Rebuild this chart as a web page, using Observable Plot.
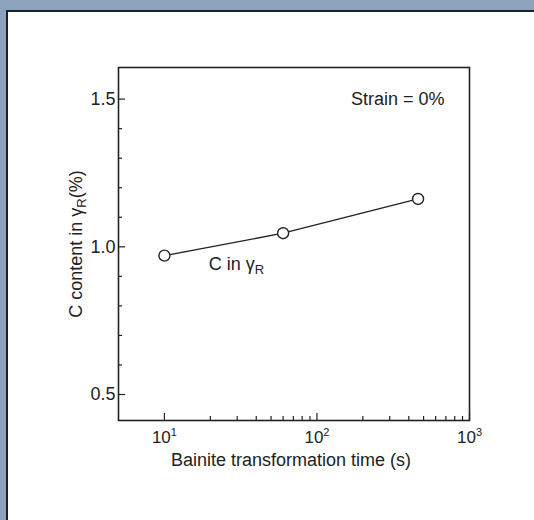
<!DOCTYPE html>
<html><head><meta charset="utf-8">
<script src="https://cdn.jsdelivr.net/npm/d3@7"></script>
<script src="https://cdn.jsdelivr.net/npm/@observablehq/plot@0.6"></script>
<style>
html,body{margin:0;padding:0;}
#page{position:relative;width:534px;height:520px;background:#8da2bd;overflow:hidden;}
#panel{position:absolute;left:6px;top:10px;right:0;bottom:0;background:#fff;border-top:2px solid #1d2228;border-left:2px solid #1d2228;}
#chart{position:absolute;left:0;top:0;}
</style></head><body>
<div id="page"><div id="panel"></div><div id="chart"></div></div>
<script>
// Data
const times = [10, 60, 460];            // bainite transformation time (s)
const carbon = [0.97, 1.046, 1.162];    // C content in γR (%)
const yMajor = [0.5, 1.0, 1.5];
const yMinor = [0.6, 0.7, 0.8, 0.9, 1.1, 1.2, 1.3, 1.4];
const xMajor = [10, 100, 1000];
const xMajorExponents = ["1", "2", "3"];
const xMinor = [20, 30, 40, 50, 60, 70, 80, 90, 200, 300, 400, 500, 600, 700, 800, 900];
const seriesName = "C in γR";
const seriesLabelAt = [19.5, 0.942];
const strainLabel = "Strain = 0%";
const xTitle = "Bainite transformation time (s)";
const yTitle = "C content in γR(%)";

const data = times.map((t, i) => ({t, c: carbon[i]}));
const ink = "#222";
const xTickText = d => "10^" + xMajorExponents[xMajor.indexOf(d)];

const chart = Plot.plot({
  width: 534, height: 520,
  marginLeft: 118, marginRight: 65, marginTop: 67, marginBottom: 100,
  style: {fontFamily: "'Liberation Sans', Arial, sans-serif", fontSize: "18px", color: ink, background: "transparent"},
  x: {type: "log", domain: [5, 1000]},
  y: {domain: [0.412, 1.607]},
  marks: [
    Plot.frame({stroke: ink, strokeWidth: 1.6}),
    Plot.axisY(yMinor, {tickSize: -4, tickFormat: () => "", label: null, strokeWidth: 1.2}),
    Plot.axisY(yMajor, {tickSize: -7, tickPadding: 10, tickFormat: d3.format(".1f"), label: null, fontSize: 18, strokeWidth: 1.2}),
    Plot.axisX(xMinor, {tickSize: -4, tickFormat: () => "", label: null, strokeWidth: 1.2}),
    Plot.axisX(xMajor, {tickSize: -7, tickPadding: 17, tickFormat: xTickText, label: null, fontSize: 17, strokeWidth: 1.2}),
    Plot.line(data, {x: "t", y: "c", stroke: ink, strokeWidth: 1.3}),
    Plot.dot(data, {x: "t", y: "c", r: 5.5, fill: "white", stroke: ink, strokeWidth: 1.4}),
    Plot.text([seriesName], {x: () => seriesLabelAt[0], y: () => seriesLabelAt[1], textAnchor: "start", fontSize: 18}),
    Plot.text([strainLabel], {frameAnchor: "top-right", dx: -25, dy: 32, textAnchor: "end", lineAnchor: "middle", fontSize: 18}),
    Plot.text([xTitle], {frameAnchor: "bottom", dx: -3, dy: 40, textAnchor: "middle", lineAnchor: "middle", fontSize: 18}),
    Plot.text([yTitle], {frameAnchor: "left", dx: -42, rotate: -90, textAnchor: "middle", lineAnchor: "middle", fontSize: 18})
  ]
});

// subscript R via tspans
function subscriptR(full, before, after) {
  chart.querySelectorAll("text").forEach(t => {
    if (t.textContent === full) {
      const s = d3.select(t);
      s.text(null);
      s.append("tspan").text(before);
      s.append("tspan").attr("dy", 4).attr("font-size", "13px").text("R");
      if (after) s.append("tspan").attr("dy", -4).text(after);
    }
  });
}
subscriptR(yTitle, "C content in γ", "(%)");
subscriptR(seriesName, "C in γ", "");

// superscript exponents on x tick labels
xMajorExponents.forEach(e => {
  chart.querySelectorAll("text").forEach(t => {
    if (t.textContent === "10^" + e) {
      const s = d3.select(t);
      s.text(null);
      s.append("tspan").text("10");
      s.append("tspan").attr("dy", -7).attr("font-size", "11px").text(e);
    }
  });
});

document.getElementById("chart").appendChild(chart);
</script>
</body></html>
